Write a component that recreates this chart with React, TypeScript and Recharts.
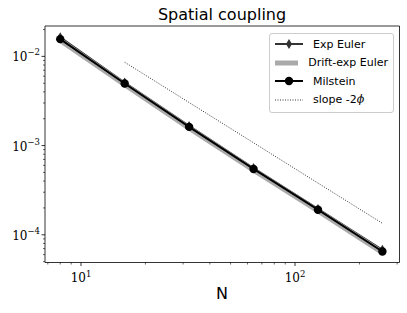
import React from 'react';
import { ComposedChart, Line, XAxis, YAxis, ReferenceArea } from 'recharts';

const nValues = [8, 16, 32, 64, 128, 256];
const expEuler = [0.0164, 0.0051, 0.00166, 0.00056, 0.000195, 0.000068];
const driftExpEuler = [0.0151, 0.0048, 0.00157, 0.00053, 0.000185, 0.000063];
const milstein = [0.0156, 0.00497, 0.00162, 0.000547, 0.000191, 0.000065];
const slopeRef = [null, 0.0086, 0.00304, 0.001075, 0.00038, 0.0001344];

const xMajor = [10, 100];
const xMinor = [7, 8, 9, 20, 30, 40, 50, 60, 70, 80, 90, 200, 300];
const yMajor = [1e-2, 1e-3, 1e-4];
const yMinor = [
  5e-5, 6e-5, 7e-5, 8e-5, 9e-5,
  2e-4, 3e-4, 4e-4, 5e-4, 6e-4, 7e-4, 8e-4, 9e-4,
  2e-3, 3e-3, 4e-3, 5e-3, 6e-3, 7e-3, 8e-3, 9e-3,
  2e-2,
];

const xDomain = [6.79, 307.7];
const yDomain = [4.89e-5, 0.0219];

const data = nValues.map((n, i) => ({
  n,
  exp: expEuler[i],
  drift: driftExpEuler[i],
  mil: milstein[i],
  slope: slopeRef[i],
}));

const serif = '"DejaVu Serif", "Liberation Serif", serif';
const sans = '"DejaVu Sans", "Noto Sans", sans-serif';

const XTick = (props: any) => {
  const { x, y, payload } = props;
  const major = xMajor.includes(payload.value);
  const exp = Math.round(Math.log10(payload.value));
  return (
    <g>
      <line x1={x} x2={x} y1={y} y2={y + (major ? 3.5 : 2)} stroke="#000" strokeWidth={major ? 0.8 : 0.6} />
      {major && (
        <text x={x} y={y + 19} textAnchor="middle" fontFamily={serif} fontSize={12} fill="#000">
          10<tspan dy={-5} fontSize={8.5}>{exp}</tspan>
        </text>
      )}
    </g>
  );
};

const YTick = (props: any) => {
  const { x, y, payload } = props;
  const major = yMajor.some((v) => Math.abs(v - payload.value) / v < 1e-6);
  const exp = Math.round(Math.log10(payload.value));
  return (
    <g>
      <line x1={x} x2={x - (major ? 3.5 : 2)} y1={y} y2={y} stroke="#000" strokeWidth={major ? 0.8 : 0.6} />
      {major && (
        <text x={x - 5} y={y + 5} textAnchor="end" fontFamily={serif} fontSize={12} fill="#000">
          10<tspan dy={-6} fontSize={8.5}>{'\u2212' + Math.abs(exp)}</tspan>
        </text>
      )}
    </g>
  );
};

const Diamond = (props: any) => {
  const { cx, cy } = props;
  if (cx == null || cy == null) return null;
  return <path d={`M${cx},${cy - 5} L${cx + 3},${cy} L${cx},${cy + 5} L${cx - 3},${cy} Z`} fill="#333" />;
};

const Dot = (props: any) => {
  const { cx, cy } = props;
  if (cx == null || cy == null) return null;
  return <circle cx={cx} cy={cy} r={4.2} fill="#000" />;
};

const LegendBox = () => {
  const row = { display: 'flex', alignItems: 'center', height: 18.5 } as const;
  const label = { marginLeft: 10, fontFamily: sans, fontSize: 11, color: '#000', whiteSpace: 'nowrap' } as const;
  return (
    <div
      style={{
        position: 'absolute',
        left: 269,
        top: 33,
        width: 113,
        border: '1px solid #ccc',
        borderRadius: 3,
        background: 'rgba(255,255,255,0.8)',
        padding: '1px 5px 3px 5px',
      }}
    >
      <div style={row}>
        <svg width={28} height={12}>
          <line x1={0} x2={28} y1={6} y2={6} stroke="#333" strokeWidth={2} />
          <path d="M14,1 L17,6 L14,11 L11,6 Z" fill="#333" />
        </svg>
        <span style={label}>Exp Euler</span>
      </div>
      <div style={row}>
        <svg width={28} height={12}>
          <line x1={0} x2={28} y1={6} y2={6} stroke="#aaa" strokeWidth={5} />
        </svg>
        <span style={label}>Drift-exp Euler</span>
      </div>
      <div style={row}>
        <svg width={28} height={12}>
          <line x1={0} x2={28} y1={6} y2={6} stroke="#000" strokeWidth={2} />
          <circle cx={14} cy={6} r={4.2} fill="#000" />
        </svg>
        <span style={label}>Milstein</span>
      </div>
      <div style={row}>
        <svg width={28} height={12}>
          <line x1={0} x2={28} y1={6} y2={6} stroke="#000" strokeWidth={0.8} strokeDasharray="1 1.5" />
        </svg>
        <span style={label}>
          slope -2<i style={{ fontFamily: serif }}>ϕ</i>
        </span>
      </div>
    </div>
  );
};

export default function App() {
  return (
    <div style={{ position: 'absolute', left: 0, top: 0, width: 407, height: 313, background: '#fff' }}>
      <div
        style={{
          position: 'absolute',
          left: 0,
          width: 444,
          top: 5,
          textAlign: 'center',
          fontFamily: sans,
          fontSize: 16,
          color: '#000',
        }}
      >
        Spatial coupling
      </div>
      <ComposedChart width={407} height={313} data={data} margin={{ top: 26, right: 7.5, bottom: 0, left: 0 }}>
        <XAxis
          dataKey="n"
          type="number"
          scale="log"
          domain={xDomain}
          allowDataOverflow
          ticks={[...xMajor, ...xMinor]}
          interval={0}
          tick={<XTick />}
          tickLine={false}
          tickSize={0}
          tickMargin={0}
          axisLine={false}
          height={50.5}
        />
        <YAxis
          type="number"
          scale="log"
          domain={yDomain}
          allowDataOverflow
          ticks={[...yMajor, ...yMinor]}
          interval={0}
          tick={<YTick />}
          tickLine={false}
          tickSize={0}
          tickMargin={0}
          axisLine={false}
          width={45}
        />
        <ReferenceArea
          x1={xDomain[0]}
          x2={xDomain[1]}
          y1={yDomain[0]}
          y2={yDomain[1]}
          fill="none"
          stroke="#000"
          strokeWidth={0.8}
          ifOverflow="extendDomain"
        />
        <Line dataKey="exp" stroke="#333" strokeWidth={2} dot={<Diamond />} isAnimationActive={false} />
        <Line dataKey="drift" stroke="#aaa" strokeWidth={5} dot={false} isAnimationActive={false} />
        <Line dataKey="mil" stroke="#000" strokeWidth={2} dot={<Dot />} isAnimationActive={false} />
        <Line
          dataKey="slope"
          stroke="#000"
          strokeWidth={0.8}
          strokeDasharray="1 1.5"
          dot={false}
          connectNulls
          isAnimationActive={false}
        />
      </ComposedChart>
      <LegendBox />
      <div
        style={{
          position: 'absolute',
          left: 0,
          width: 444,
          top: 284,
          textAlign: 'center',
          fontFamily: sans,
          fontSize: 16,
          color: '#000',
        }}
      >
        N
      </div>
    </div>
  );
}
